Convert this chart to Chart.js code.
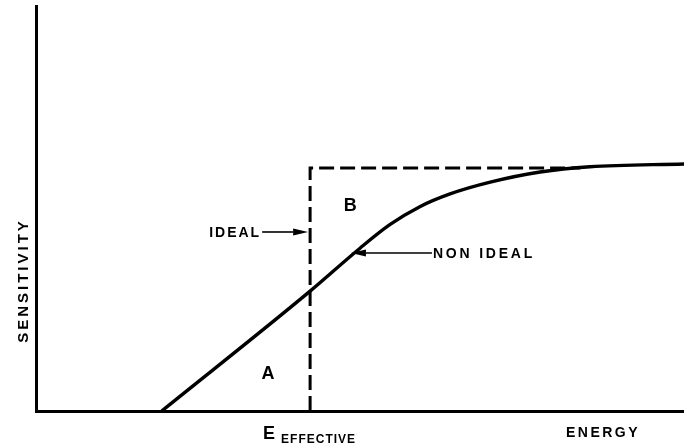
<!DOCTYPE html>
<html>
<head>
<meta charset="utf-8">
<script src="https://cdn.jsdelivr.net/npm/chart.js@4/dist/chart.umd.min.js"></script>
<style>
  html, body { margin: 0; padding: 0; background: #fff; }
  #wrap { width: 684px; height: 448px; }
</style>
</head>
<body>
<div id="wrap"><canvas id="chart" width="684" height="448"></canvas></div>
<script>
// Energy axis runs 0..100, sensitivity 0..100 (arbitrary units)
const realEnergy = [19.4, 42.3, 50.0, 54.6, 59.3, 63.9, 70.1, 77.8, 85.5, 100];
const realSensitivity = [0, 29.6, 40.2, 46.0, 50.5, 53.6, 56.5, 59.0, 60.3, 61.0];

// Step response: zero below E effective, flat plateau above it
const idealEnergy = [42.3, 42.3, 84];
const idealSensitivity = [0, 60.0, 60.0];

const FONT = '"Liberation Sans", Arial, sans-serif';

const toPoints = (xs, ys) => xs.map((x, i) => ({ x, y: ys[i] }));

// Arrow with a long filled head, from (x1,y1) to tip (x2,y2)
function arrow(ctx, x1, y1, x2, y2) {
  const ang = Math.atan2(y2 - y1, x2 - x1);
  const len = 15, half = 3.5;
  ctx.save();
  ctx.strokeStyle = '#000';
  ctx.fillStyle = '#000';
  ctx.lineWidth = 1.6;
  ctx.beginPath();
  ctx.moveTo(x1, y1);
  ctx.lineTo(x2 - Math.cos(ang) * len, y2 - Math.sin(ang) * len);
  ctx.stroke();
  ctx.translate(x2, y2);
  ctx.rotate(ang);
  ctx.beginPath();
  ctx.moveTo(0, 0);
  ctx.lineTo(-len, -half);
  ctx.lineTo(-len, half);
  ctx.closePath();
  ctx.fill();
  ctx.restore();
}

function text(ctx, str, x, y, size, align, spacing) {
  ctx.font = 'bold ' + size + 'px ' + FONT;
  ctx.letterSpacing = (spacing || 0) + 'px';
  ctx.textAlign = align;
  ctx.fillText(str, x, y);
}

const labelsPlugin = {
  id: 'labels',
  afterDraw(chart) {
    const { ctx, scales: { x, y } } = chart;
    const px = v => x.getPixelForValue(v);
    const py = v => y.getPixelForValue(v);
    ctx.save();
    ctx.fillStyle = '#000';
    ctx.textBaseline = 'alphabetic';

    // region letters
    text(ctx, 'A', px(35.8), py(9.6) + 7, 18, 'center');
    text(ctx, 'B', px(48.5), py(50.9) + 6, 18, 'center');

    // IDEAL pointer to the step edge
    text(ctx, 'IDEAL', px(34.9) - 1, py(44.2) + 5, 14, 'right', 2);
    arrow(ctx, px(34.9), py(44.2), px(42.3) - 2, py(44.2));

    // NON IDEAL pointer to the real curve
    text(ctx, 'NON IDEAL', px(61.1) + 1, py(39.0) + 5, 14, 'left', 2.8);
    arrow(ctx, px(61.1), py(39.0), px(48.6), py(39.0));

    // axis captions
    const ex = px(idealEnergy[0]);
    text(ctx, 'E', ex - 47, 439, 18, 'left');
    text(ctx, 'EFFECTIVE', ex - 29, 443, 12, 'left', 1);
    text(ctx, 'ENERGY', px(87.5), 437, 14, 'center', 2.5);

    ctx.translate(22, (y.top + y.bottom) / 2 + 72);
    ctx.rotate(-Math.PI / 2);
    text(ctx, 'SENSITIVITY', 0, 6, 15, 'center', 3);
    ctx.restore();
  }
};

new Chart(document.getElementById('chart'), {
  type: 'line',
  data: {
    datasets: [
      {
        label: 'Non ideal',
        data: toPoints(realEnergy, realSensitivity),
        borderColor: '#000',
        borderWidth: 3.4,
        cubicInterpolationMode: 'monotone',
        pointRadius: 0,
        fill: false
      },
      {
        label: 'Ideal',
        data: toPoints(idealEnergy, idealSensitivity),
        borderColor: '#000',
        borderWidth: 3,
        borderDash: [15, 6],
        tension: 0,
        pointRadius: 0,
        fill: false
      }
    ]
  },
  options: {
    responsive: false,
    animation: false,
    devicePixelRatio: 1,
    layout: { padding: { left: 36, right: 0, top: 6, bottom: 37 } },
    plugins: {
      legend: { display: false },
      tooltip: { enabled: false }
    },
    scales: {
      x: {
        type: 'linear',
        min: 0,
        max: 100,
        grid: { display: false, drawTicks: false },
        ticks: { display: false },
        border: { display: true, color: '#000', width: 3 }
      },
      y: {
        min: 0,
        max: 100,
        grid: { display: false, drawTicks: false },
        ticks: { display: false },
        border: { display: true, color: '#000', width: 3 }
      }
    }
  },
  plugins: [labelsPlugin]
});
</script>
</body>
</html>
